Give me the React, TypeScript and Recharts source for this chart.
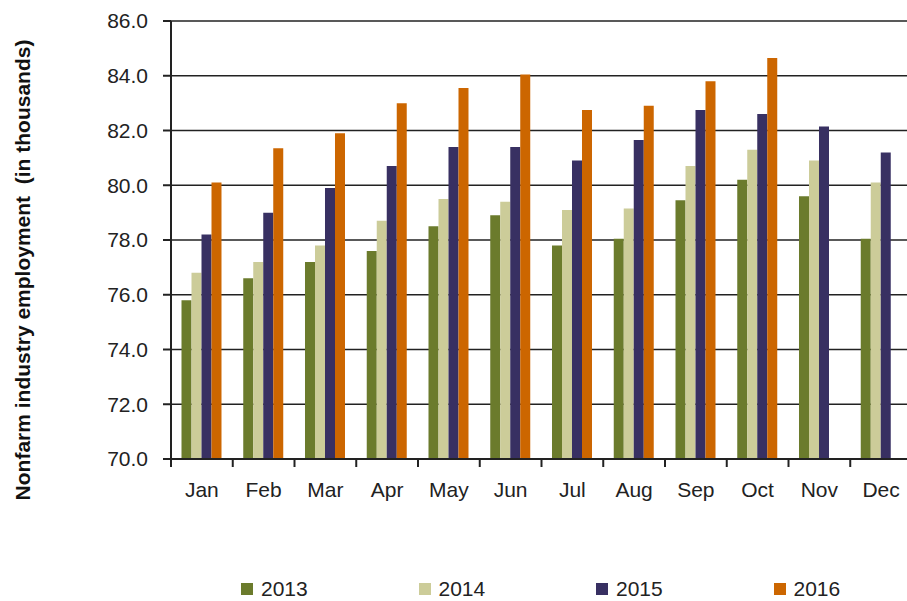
import React from 'react';
import { BarChart, Bar, XAxis, YAxis, CartesianGrid, Legend } from 'recharts';

const months = ['Jan', 'Feb', 'Mar', 'Apr', 'May', 'Jun', 'Jul', 'Aug', 'Sep', 'Oct', 'Nov', 'Dec'];
const y2013 = [75.8, 76.6, 77.2, 77.6, 78.5, 78.9, 77.8, 78.05, 79.45, 80.2, 79.6, 78.05];
const y2014 = [76.8, 77.2, 77.8, 78.7, 79.5, 79.4, 79.1, 79.15, 80.7, 81.3, 80.9, 80.1];
const y2015 = [78.2, 79.0, 79.9, 80.7, 81.4, 81.4, 80.9, 81.65, 82.75, 82.6, 82.15, 81.2];
const y2016: (number | null)[] = [80.1, 81.35, 81.9, 83.0, 83.55, 84.05, 82.75, 82.9, 83.8, 84.65, null, null];
const yTicks = [70, 72, 74, 76, 78, 80, 82, 84, 86];

const series = [
  { key: '2013', color: '#6B7B2C' },
  { key: '2014', color: '#CCCC99' },
  { key: '2015', color: '#383062' },
  { key: '2016', color: '#CC6600' },
];

const data = months.map((m, i) => ({
  month: m,
  '2013': y2013[i],
  '2014': y2014[i],
  '2015': y2015[i],
  '2016': y2016[i],
}));

const FONT = 'Arial, "Liberation Sans", sans-serif';
const TEXT = '#222';

// Excel style: tick marks sit between categories, labels in the middle
const MonthTick = (props: any) => {
  const { x, y, payload } = props;
  const off = payload.offset || 0;
  return (
    <g>
      <line x1={x - off} x2={x - off} y1={y} y2={y + 8} stroke="#222" strokeWidth={2} />
      <text x={x} y={y + 38} textAnchor="middle" fontSize={21} fontFamily={FONT} fill={TEXT}>
        {payload.value}
      </text>
    </g>
  );
};

const YLabel = () => (
  <text
    x={22}
    y={270}
    transform="rotate(-90 22 270)"
    textAnchor="middle"
    dominantBaseline="central"
    fontSize={21}
    fontWeight="bold"
    fontFamily={FONT}
    fill="#111"
  >
    {'Nonfarm industry employment \u00A0(in thousands)'}
  </text>
);

const LegendBox = () => (
  <div style={{ position: 'relative', height: 24, fontFamily: FONT, fontSize: 21, color: TEXT }}>
    {series.map((s, i) => (
      <div
        key={s.key}
        style={{ position: 'absolute', left: 241 + i * 177.5, top: 0, display: 'flex', alignItems: 'center', whiteSpace: 'nowrap' }}
      >
        <span style={{ display: 'inline-block', width: 12, height: 12, background: s.color, marginRight: 8 }} />
        <span>{s.key}</span>
      </div>
    ))}
  </div>
);

export default function App() {
  return (
    <div style={{ position: 'absolute', left: 0, top: 0, width: 907, height: 601, overflow: 'hidden', background: '#fff' }}>
      <BarChart
        width={930}
        height={601}
        data={data}
        margin={{ top: 21, right: 18, bottom: 82, left: 0 }}
        barCategoryGap="17%"
        barGap={0}
      >
        <CartesianGrid vertical={false} stroke="#222" strokeWidth={1.6} />
        <XAxis
          dataKey="month"
          height={60}
          interval={0}
          tickLine={false}
          tickSize={0}
          tickMargin={0}
          axisLine={{ stroke: '#222', strokeWidth: 2 }}
          tick={<MonthTick />}
        />
        <YAxis
          width={171}
          domain={[70, 86]}
          ticks={yTicks}
          interval={0}
          allowDataOverflow
          tickFormatter={(v: number) => v.toFixed(1)}
          tickSize={8}
          tickMargin={15}
          tickLine={{ stroke: '#222', strokeWidth: 2 }}
          axisLine={{ stroke: '#222', strokeWidth: 2 }}
          tick={{ fill: TEXT, fontSize: 21, fontFamily: FONT }}
          label={{ content: () => <YLabel /> }}
        />
        <Legend
          verticalAlign="middle"
          align="center"
          layout="horizontal"
          wrapperStyle={{ left: 0, top: 577, width: 907, height: 24 }}
          content={() => <LegendBox />}
        />
        {series.map((s) => (
          <Bar key={s.key} dataKey={s.key} fill={s.color} isAnimationActive={false} />
        ))}
      </BarChart>
    </div>
  );
}
